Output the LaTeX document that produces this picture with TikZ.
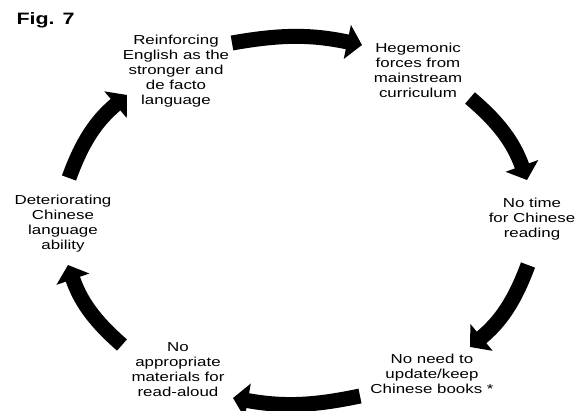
\documentclass[tikz,border=0pt]{standalone}
\usepackage{fontspec}
\setmainfont{Liberation Sans}[FakeStretch=1.3]
\usetikzlibrary{arrows.meta}

\begin{document}
\begin{tikzpicture}[x=1pt, y=-1pt,
  stage/.style={align=center, font=\fontsize{13}{15}\selectfont},
  cycarrow/.style={line width=15pt, -{Triangle[length=15pt, width=34pt]}}]

  \useasboundingbox (0,0) rectangle (576,410);

  % Title
  \node[anchor=base west, font=\fontsize{16.5}{18}\selectfont\bfseries] (fig) at (13,24) {Fig. 7};

  % Stages round the cycle
  \node[stage] (S1) at (176,71) {Reinforcing\\English as the\\stronger and\\de facto\\language};
  \node[stage] (S2) at (418,70) {Hegemonic\\forces from\\mainstream\\curriculum};
  \node[stage] (S3) at (532,219) {No time\\for Chinese\\reading};
  \node[stage] (S4) at (432,374) {No need to\\update/keep\\Chinese books *};
  \node[stage] (S5) at (178,370) {No\\appropriate\\materials for\\read-aloud};
  \node[stage] (S6) at (63,224) {Deteriorating\\Chinese\\language\\ability};

  % Arrow ends
  \coordinate (T1) at (232,43);
  \coordinate (P1) at (362,45);
  \coordinate (T2) at (470,98);
  \coordinate (P2) at (527,180);
  \coordinate (T3) at (528,265);
  \coordinate (P3) at (470,347);
  \coordinate (T4) at (360,396);
  \coordinate (P4) at (233,398);
  \coordinate (T5) at (122,345);
  \coordinate (P5) at (68,265);
  \coordinate (T6) at (69,178);
  \coordinate (P6) at (127,95);

  % Curved arrows
  \draw[cycarrow] (T1) to[bend left=11] (P1);
  \draw[cycarrow] (T2) to[bend left=15] (P2);
  \draw[cycarrow] (T3) to[bend left=15] (P3);
  \draw[cycarrow] (T4) to[bend left=11] (P4);
  \draw[cycarrow] (T5) to[bend left=15] (P5);
  \draw[cycarrow] (T6) to[bend left=15] (P6);

\end{tikzpicture}
\end{document}
